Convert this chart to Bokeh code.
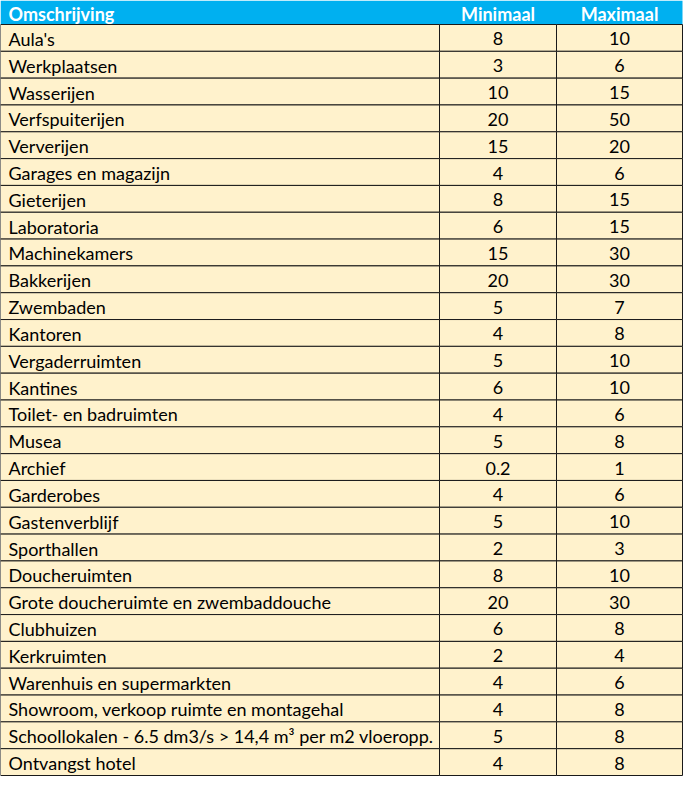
from bokeh.plotting import figure
from bokeh.models import ColumnDataSource, Range1d
from bokeh.core.properties import value
from bokeh.embed import file_html
from bokeh.resources import INLINE

headers = ["Omschrijving", "Minimaal", "Maximaal"]
omschrijving = [
    "Aula's", "Werkplaatsen", "Wasserijen", "Verfspuiterijen", "Ververijen",
    "Garages en magazijn", "Gieterijen", "Laboratoria", "Machinekamers",
    "Bakkerijen", "Zwembaden", "Kantoren", "Vergaderruimten", "Kantines",
    "Toilet- en badruimten", "Musea", "Archief", "Garderobes",
    "Gastenverblijf", "Sporthallen", "Doucheruimten",
    "Grote doucheruimte en zwembaddouche", "Clubhuizen", "Kerkruimten",
    "Warenhuis en supermarkten", "Showroom, verkoop ruimte en montagehal",
    "Schoollokalen - 6.5 dm3/s > 14,4 m³ per m2 vloeropp.", "Ontvangst hotel",
]
minimaal = ["8", "3", "10", "20", "15", "4", "8", "6", "15", "20", "5", "4", "5",
            "6", "4", "5", "0.2", "4", "5", "2", "8", "20", "6", "2", "4", "4", "5", "4"]
maximaal = ["10", "6", "15", "50", "20", "6", "15", "15", "30", "30", "7", "8", "10",
            "10", "6", "8", "1", "6", "10", "3", "10", "30", "8", "4", "6", "8", "8", "8"]

W, H = 684, 778
col_edges = [0, 439, 556, 682]
header_h = 24
n = len(omschrijving)
row_h = (775 - header_h) / n
FONT = "Lato"
FS = "18px"

p = figure(width=W, height=H, output_backend="svg", toolbar_location=None,
           x_range=Range1d(0, W), y_range=Range1d(H, 0), min_border=0)
p.axis.visible = False
p.grid.visible = False
p.outline_line_color = None
p.background_fill_color = "white"
p.border_fill_color = "white"

p.quad(left=[col_edges[0]], right=[col_edges[-1]], top=[0], bottom=[header_h],
       fill_color="#00B0F0", line_color=None)

lefts, rights, tops, bottoms = [], [], [], []
for i in range(n):
    for c in range(3):
        lefts.append(col_edges[c]); rights.append(col_edges[c + 1])
        tops.append(header_h + i * row_h); bottoms.append(header_h + (i + 1) * row_h)
p.quad(left=lefts, right=rights, top=tops, bottom=bottoms,
       fill_color="#FFF2CC", line_color="#1a1a1a", line_width=1)

hx = [col_edges[0] + 8, (col_edges[1] + col_edges[2]) / 2, (col_edges[2] + col_edges[3]) / 2]
halign = ["left", "center", "center"]
for t, x, a in zip(headers, hx, halign):
    p.text(x=[x], y=[header_h / 2 + 1], text=[t], text_color="white",
           text_font=value(FONT), text_font_style="bold", text_font_size=FS,
           text_align=a, text_baseline="middle")

ys = [header_h + (i + 0.5) * row_h + 1 for i in range(n)]
src = ColumnDataSource(dict(y=ys, o=omschrijving, mn=minimaal, mx=maximaal))
p.text(x=col_edges[0] + 8, y="y", text="o", source=src, text_color="black",
       text_font=value(FONT), text_font_size=FS, text_align="left", text_baseline="middle")
p.text(x=hx[1], y="y", text="mn", source=src, text_color="black",
       text_font=value(FONT), text_font_size=FS, text_align="center", text_baseline="middle")
p.text(x=hx[2], y="y", text="mx", source=src, text_color="black",
       text_font=value(FONT), text_font_size=FS, text_align="center", text_baseline="middle")

open("out.html", "w").write(file_html(p, INLINE))
